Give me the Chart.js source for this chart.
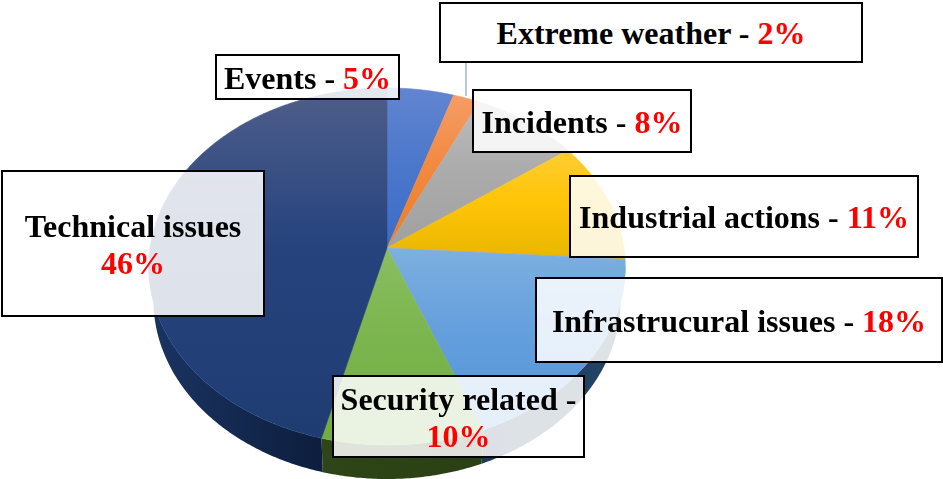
<!DOCTYPE html>
<html>
<head>
<meta charset="utf-8">
<script src="https://cdn.jsdelivr.net/npm/chart.js@4"></script>
<style>
html, body { margin: 0; padding: 0; background: #fff; overflow: hidden; }
#wrap { position: relative; width: 943px; height: 479px; }
#wrap canvas { position: absolute; left: 0; top: 0; }
.box {
	position: absolute; box-sizing: border-box;
	display: flex; align-items: center; justify-content: center; text-align: center;
	background: rgba(255,255,255,0.85); border: 2px solid #000;
	font: bold 32px/36.5px "Liberation Serif", serif; color: #000; white-space: nowrap;
}
.box div { position: relative; top: 1px; }
.box b { color: #f00; }
#l0 { left: 215px; top: 54px; width: 185px; height: 46px; }
#l1 { left: 439px; top: 2px; width: 424px; height: 61px; background: #fff; }
#l2 { left: 472px; top: 89px; width: 220px; height: 64px; }
#l3 { left: 569px; top: 175px; width: 350px; height: 83px; }
#l4 { left: 535px; top: 277px; width: 408px; height: 86px; }
#l5 { left: 332px; top: 375px; width: 253px; height: 83px; }
#l6 { left: 1px; top: 170px; width: 264px; height: 147px; }
</style>
</head>
<body>
<div id="wrap"><canvas id="pie" width="943" height="479"></canvas></div>
<script>
var categories = ["Events", "Extreme weather", "Incidents", "Industrial actions", "Infrastrucural issues", "Security related", "Technical issues"];
var shares = [5, 2, 8, 11, 18, 10, 46];
// these two labels wrap, the others stay on one line
var twoLines = ["Security related", "Technical issues"];
var dashOnWrap = ["Security related"];

var faceTop = ["#6285d0", "#f59c66", "#bcbcbc", "#ffcd35", "#7db0e0", "#89be62", "#4f5e89"];
var faceMid = ["#4d78cb", "#f28a40", "#acacac", "#ffc508", "#659fdd", "#7cb54e", "#26437e"];
var faceEnd = ["#3a6cc8", "#ee7d24", "#a0a0a0", "#e9b600", "#4f96da", "#6fad3f", "#1f3c72"];
var wallLeft = ["#1f3a70", "#80430f", "#555555", "#806000", "#1c3a5c", "#2d4517", "#1a3462"];
var wallRight = ["#1f3a70", "#80430f", "#555555", "#806000", "#234566", "#2a4014", "#0d1e3e"];

// the tilted disc: centre of the pie, width, height and how strong the perspective is
var cx = 387, cy = 248, rx = 237, ry = 176.6, persp = 0.1036, depth = 34, baseShrink = 0.98;

function project(a) {
	var w = 1 - persp * Math.sin(a);
	return { x: cx + rx * Math.cos(a) / w, y: cy + ry * Math.sin(a) / w };
}

function baseX(x) {
	return cx + (x - cx) * baseShrink;
}

function rimPoints(arc) {
	var out = [];
	var n = Math.max(2, Math.ceil((arc.endAngle - arc.startAngle) / 0.01));
	for (var i = 0; i <= n; i++) {
		out.push(project(arc.startAngle + (arc.endAngle - arc.startAngle) * i / n));
	}
	return out;
}

function drawWall(ctx, arc, i) {
	var pts = rimPoints(arc);
	// only the part of the rim that faces the viewer
	var quads = [];
	for (var j = 1; j < pts.length; j++) {
		if (pts[j].x < pts[j - 1].x) quads.push([pts[j - 1], pts[j]]);
	}
	if (!quads.length) return;
	var g = ctx.createLinearGradient(quads[quads.length - 1][1].x, 0, quads[0][0].x, 0);
	g.addColorStop(0, wallLeft[i]);
	g.addColorStop(1, wallRight[i]);
	ctx.beginPath();
	quads.forEach(function(q) {
		ctx.moveTo(q[0].x, q[0].y);
		ctx.lineTo(q[1].x, q[1].y);
		ctx.lineTo(baseX(q[1].x), q[1].y + depth);
		ctx.lineTo(baseX(q[0].x), q[0].y + depth);
		ctx.closePath();
	});
	ctx.fillStyle = g;
	ctx.fill();
}

function drawFace(ctx, arc, i) {
	var pts = rimPoints(arc);
	var top = cy, bottom = cy;
	ctx.beginPath();
	ctx.moveTo(cx, cy);
	pts.forEach(function(p) {
		ctx.lineTo(p.x, p.y);
		top = Math.min(top, p.y);
		bottom = Math.max(bottom, p.y);
	});
	ctx.closePath();
	var g = ctx.createLinearGradient(0, top, 0, bottom);
	g.addColorStop(0, faceTop[i]);
	g.addColorStop(0.45, faceMid[i]);
	g.addColorStop(1, faceEnd[i]);
	ctx.fillStyle = g;
	ctx.strokeStyle = g;
	ctx.lineWidth = 0.6;
	ctx.fill();
	ctx.stroke();
}

var discPlugin = {
	id: "disc",
	beforeDatasetDraw: function(chart, args) {
		var ctx = chart.ctx;
		var arcs = chart.getDatasetMeta(args.index).data;
		ctx.save();
		arcs.forEach(function(arc, i) { drawWall(ctx, arc, i); });
		arcs.forEach(function(arc, i) { drawFace(ctx, arc, i); });
		// leader line of the small slice up to its label
		ctx.strokeStyle = "#b9c8dc";
		ctx.lineWidth = 2;
		ctx.beginPath();
		ctx.moveTo(466, 62);
		ctx.lineTo(466, 96);
		ctx.stroke();
		ctx.restore();
		return false;
	}
};

new Chart(document.getElementById("pie"), {
	type: "pie",
	data: { labels: categories, datasets: [{ data: shares }] },
	options: {
		responsive: false,
		animation: false,
		events: [],
		plugins: { legend: { display: false }, tooltip: { enabled: false } }
	},
	plugins: [discPlugin]
});

var wrap = document.getElementById("wrap");
categories.forEach(function(name, i) {
	var box = document.createElement("div");
	box.className = "box";
	box.id = "l" + i;
	var inner = document.createElement("div");
	var head = document.createElement("span");
	var wraps = twoLines.indexOf(name) >= 0;
	head.textContent = name + (!wraps || dashOnWrap.indexOf(name) >= 0 ? " - " : "");
	inner.appendChild(head);
	if (wraps) inner.appendChild(document.createElement("br"));
	var val = document.createElement("b");
	val.textContent = shares[i] + "%";
	inner.appendChild(val);
	box.appendChild(inner);
	wrap.appendChild(box);
});
</script>
</body>
</html>
